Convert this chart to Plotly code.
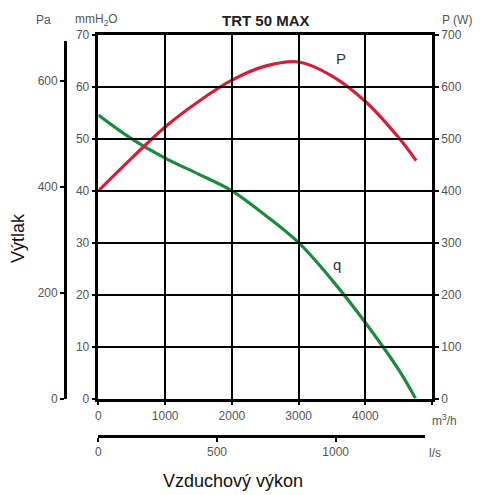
import plotly.graph_objects as go

# ---- data ----
q_flow = [0, 500, 1000, 1500, 2000, 2500, 3000, 3500, 4000, 4500, 4750]
q_mm = [54.6, 50.0, 46.3, 43.2, 40.0, 35.3, 30.0, 22.8, 14.6, 5.5, 0]

p_flow = [0, 500, 1000, 1500, 2000, 2500, 3000, 3500, 4000, 4500, 4760]
p_w = [400, 463, 523, 572, 613, 640, 648, 621, 572, 502, 458]

x_ticks = [0, 1000, 2000, 3000, 4000, 5000]
x_ticktext = ["0", "1000", "2000", "3000", "4000", " "]
mm_ticks = [0, 10, 20, 30, 40, 50, 60, 70]
pa_ticks = [0, 200, 400, 600]
w_ticks = [0, 100, 200, 300, 400, 500, 600, 700]
ls_ticks = [0, 500, 1000]

FONT = "Liberation Sans, Arial, sans-serif"
TICKC = "#555555"

fig = go.Figure()

fig.add_trace(go.Scatter(x=q_flow, y=q_mm, mode="lines",
                         line=dict(color="#1e8a40", width=3.2, shape="spline", smoothing=1.0),
                         xaxis="x", yaxis="y", showlegend=False, hoverinfo="skip"))
fig.add_trace(go.Scatter(x=p_flow, y=p_w, mode="lines",
                         line=dict(color="#d2203a", width=3.2, shape="spline", smoothing=1.0),
                         xaxis="x", yaxis="y3", showlegend=False, hoverinfo="skip"))
# invisible anchors for auxiliary axes
fig.add_trace(go.Scatter(x=[0], y=[0], mode="markers", marker=dict(opacity=0), xaxis="x", yaxis="y2",
                         showlegend=False, hoverinfo="skip"))
fig.add_trace(go.Scatter(x=[0], y=[0], mode="markers", marker=dict(opacity=0), xaxis="x2", yaxis="y",
                         showlegend=False, hoverinfo="skip"))

OFF = 8  # page body margin
L, R, T, B = 22, 4, 27, 22
W, H = 480 - OFF, 495 - OFF
pw, ph = W - L - R, H - T - B


def xp(px):
    return (px - OFF - L) / pw


def yp(py):
    return (H - B - (py - OFF)) / ph


x0, x1 = xp(98.7), xp(434)
y0, y1 = yp(398.5), yp(35)
mm_per_px = 70 / (398.5 - 35)
pa_top = (398.5 - 40.7) * mm_per_px * 9.80665
ls_px = 0.2383
ls_max = (426.7 - 98.7) / ls_px

axis_common = dict(showgrid=False, zeroline=False, tickfont=dict(family=FONT, size=12, color=TICKC),
                   linecolor="black", tickcolor="black")

fig.update_layout(
    width=W, height=H, margin=dict(l=L, r=R, t=T, b=B),
    paper_bgcolor="white", plot_bgcolor="rgba(0,0,0,0)",
    font=dict(family=FONT),
    xaxis=dict(domain=[x0, x1], range=[0, 5000], tickvals=x_ticks, ticktext=x_ticktext,
               showgrid=True, gridcolor="black", gridwidth=1.5, zeroline=False,
               showline=True, linewidth=2.5, linecolor="black", mirror=True,
               ticks="outside", ticklen=4, tickwidth=2, tickcolor="black",
               tickfont=dict(family=FONT, size=12, color=TICKC), anchor="y"),
    yaxis=dict(domain=[y0, y1], range=[0, 70], tickvals=mm_ticks,
               showgrid=True, gridcolor="black", gridwidth=1.5, zeroline=False,
               showline=True, linewidth=2.5, linecolor="black", mirror=True,
               ticks="outside", ticklen=4, tickwidth=2, tickcolor="black",
               tickfont=dict(family=FONT, size=12, color=TICKC), anchor="x"),
    yaxis2=dict(domain=[y0, yp(40.7)], range=[0, pa_top], tickvals=pa_ticks, anchor="free", position=xp(65),
                showline=True, linewidth=2.5, ticks="outside", ticklen=4, tickwidth=2, **axis_common),
    yaxis3=dict(range=[0, 700], tickvals=w_ticks, overlaying="y", side="right", anchor="x",
                showline=True, linewidth=2.5, ticks="outside", ticklen=4, tickwidth=2, **axis_common),
    xaxis2=dict(domain=[x0, xp(426.7)], range=[0, ls_max], tickvals=ls_ticks, anchor="free", position=yp(436),
                showline=True, linewidth=2.5, ticks="outside", ticklen=4, tickwidth=2, **axis_common),
)

ann = [
    dict(text="<b>TRT 50 MAX</b>", x=xp(267), y=yp(21), size=15, color="#222222"),
    dict(text="Pa", x=xp(44), y=yp(20), size=12, color=TICKC),
    dict(text="mmH<sub>2</sub>O", x=xp(97), y=yp(20), size=12, color=TICKC),
    dict(text="P (W)", x=xp(459), y=yp(20), size=12, color=TICKC),
    dict(text="m<sup>3</sup>/h", x=xp(446), y=yp(420), size=12, color=TICKC),
    dict(text="l/s", x=xp(437), y=yp(453), size=12, color=TICKC),
    dict(text="Vzduchový výkon", x=xp(234), y=yp(481), size=18, color="#111111"),
]
for a in ann:
    fig.add_annotation(text=a["text"], x=a["x"], y=a["y"], xref="paper", yref="paper", showarrow=False,
                       xanchor="center", yanchor="middle", font=dict(family=FONT, size=a["size"], color=a["color"]))
fig.add_annotation(text="Výtlak", x=xp(18), y=yp(238), xref="paper", yref="paper", showarrow=False,
                   textangle=-90, xanchor="center", yanchor="middle", font=dict(family=FONT, size=18, color="#111111"))

# curve labels in data coordinates
fig.add_annotation(text="P", x=3641, y=65.4, xref="x", yref="y", showarrow=False,
                   font=dict(family=FONT, size=15, color="#333333"))
fig.add_annotation(text="q", x=3581, y=25.9, xref="x", yref="y", showarrow=False,
                   font=dict(family=FONT, size=15, color="#333333"))

fig.write_html("out.html")
